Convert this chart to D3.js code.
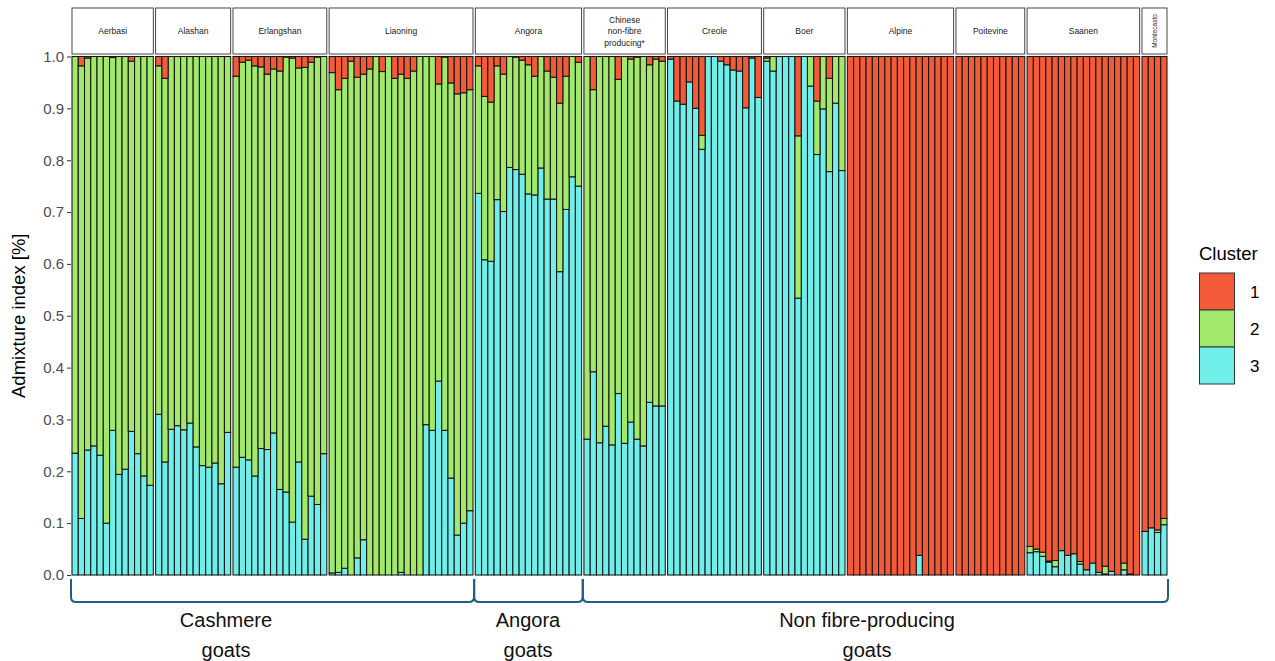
<!DOCTYPE html>
<html>
<head>
<meta charset="utf-8">
<script src="https://cdnjs.cloudflare.com/ajax/libs/d3/7.8.5/d3.min.js"></script>
<style>
  html, body { margin: 0; padding: 0; background: #ffffff; }
  svg { display: block; font-family: "Liberation Sans", Arial, Helvetica, sans-serif; }
</style>
</head>
<body>
<svg id="chart" width="1275" height="661"></svg>
<script>
// ---------------- DATA ----------------
const breeds = ["Aerbasi", "Alashan", "Erlangshan", "Liaoning", "Angora",
  "Chinese\nnon-fibre\nproducing*", "Creole", "Boer", "Alpine", "Poitevine", "Saanen", "Montecasto"];
const breedSizes = [13, 12, 15, 23, 17, 13, 15, 13, 17, 11, 18, 4];
const verticalStripBreeds = ["Montecasto"];

const clusterNames = ["1", "2", "3"];

// Cluster 1 (red) proportions, individual by individual
const cluster1 = [
  // Aerbasi
  0, 0.018, 0.003, 0, 0, 0, 0.002, 0, 0, 0.009, 0, 0, 0,
  // Alashan
  0.018, 0.042, 0, 0, 0, 0, 0, 0, 0, 0, 0, 0,
  // Erlangshan
  0.038, 0.011, 0.007, 0.018, 0.020, 0.034, 0.024, 0.028, 0.001, 0.003, 0.022, 0.021, 0.011, 0.001, 0,
  // Liaoning
  0.031, 0.064, 0.042, 0.009, 0.040, 0.034, 0.024, 0, 0.029, 0, 0.042, 0.034, 0.042, 0.028, 0, 0, 0, 0.053, 0.001, 0.051, 0.072, 0.070, 0.064,
  // Angora
  0.018, 0.077, 0.088, 0.018, 0.034, 0, 0.001, 0.007, 0.016, 0.038, 0, 0.028, 0.040, 0.090, 0.038, 0, 0.011,
  // Chinese non-fibre producing
  0, 0.064, 0, 0, 0, 0.044, 0, 0.005, 0.001, 0, 0.016, 0.005, 0.009,
  // Creole
  0.005, 0.086, 0.092, 0.049, 0.100, 0.152, 0, 0, 0.009, 0.016, 0.026, 0.028, 0.099, 0.003, 0.079,
  // Boer
  0.003, 0, 0, 0, 0, 0.153, 0, 0, 0.086, 0, 0.042, 0, 0,
  // Alpine
  1, 1, 1, 1, 1, 1, 1, 1, 1, 1, 1, 0.962, 1, 1, 1, 1, 1,
  // Poitevine
  1, 1, 1, 1, 1, 1, 1, 1, 1, 1, 1,
  // Saanen
  0.945, 0.950, 0.956, 0.973, 0.972, 0.953, 0.962, 0.959, 0.974, 0.990, 0.977, 0.995, 0.983, 0.993, 1, 0.977, 0.998, 1,
  // Montecasto
  0.916, 0.909, 0.913, 0.891
];

// Cluster 2 (green) proportions
const cluster2 = [
  // Aerbasi
  0.765, 0.873, 0.756, 0.751, 0.769, 0.900, 0.719, 0.806, 0.796, 0.714, 0.766, 0.809, 0.827,
  // Alashan
  0.672, 0.740, 0.719, 0.712, 0.720, 0.707, 0.753, 0.789, 0.792, 0.784, 0.824, 0.725,
  // Erlangshan
  0.754, 0.762, 0.771, 0.791, 0.736, 0.724, 0.702, 0.807, 0.839, 0.895, 0.760, 0.910, 0.837, 0.863, 0.766,
  // Liaoning
  0.965, 0.931, 0.945, 0.991, 0.927, 0.898, 0.976, 1, 0.971, 1, 0.958, 0.961, 0.958, 0.972, 1, 0.710, 0.721, 0.573, 0.720, 0.762, 0.851, 0.830, 0.812,
  // Angora
  0.246, 0.315, 0.307, 0.258, 0.265, 0.214, 0.217, 0.220, 0.249, 0.229, 0.215, 0.247, 0.235, 0.325, 0.257, 0.232, 0.239,
  // Chinese non-fibre producing
  0.738, 0.544, 0.745, 0.713, 0.749, 0.606, 0.746, 0.700, 0.737, 0.751, 0.651, 0.669, 0.665,
  // Creole
  0, 0, 0, 0, 0, 0.027, 0, 0, 0, 0, 0, 0, 0, 0, 0,
  // Boer
  0.006, 0.028, 0, 0, 0, 0.313, 0, 0.057, 0.103, 0.101, 0.180, 0.090, 0.220,
  // Alpine
  0, 0, 0, 0, 0, 0, 0, 0, 0, 0, 0, 0, 0, 0, 0, 0, 0,
  // Poitevine
  0, 0, 0, 0, 0, 0, 0, 0, 0, 0, 0,
  // Saanen
  0.012, 0.005, 0.008, 0.002, 0.012, 0, 0, 0, 0.005, 0, 0, 0, 0.015, 0, 0, 0.013, 0, 0,
  // Montecasto
  0, 0, 0.005, 0.012
];

// Cluster 3 (cyan) proportions
const cluster3 = [
  // Aerbasi
  0.235, 0.109, 0.241, 0.249, 0.231, 0.100, 0.279, 0.194, 0.204, 0.277, 0.234, 0.191, 0.173,
  // Alashan
  0.310, 0.218, 0.281, 0.288, 0.280, 0.293, 0.247, 0.211, 0.208, 0.216, 0.176, 0.275,
  // Erlangshan
  0.208, 0.227, 0.222, 0.191, 0.244, 0.242, 0.274, 0.165, 0.160, 0.102, 0.218, 0.069, 0.152, 0.136, 0.234,
  // Liaoning
  0.004, 0.005, 0.013, 0, 0.033, 0.068, 0, 0, 0, 0, 0, 0.005, 0, 0, 0, 0.290, 0.279, 0.374, 0.279, 0.187, 0.077, 0.100, 0.124,
  // Angora
  0.736, 0.608, 0.605, 0.724, 0.701, 0.786, 0.782, 0.773, 0.735, 0.733, 0.785, 0.725, 0.725, 0.585, 0.705, 0.768, 0.750,
  // Chinese non-fibre producing
  0.262, 0.392, 0.255, 0.287, 0.251, 0.350, 0.254, 0.295, 0.262, 0.249, 0.333, 0.326, 0.326,
  // Creole
  0.995, 0.914, 0.908, 0.951, 0.900, 0.821, 1, 1, 0.991, 0.984, 0.974, 0.972, 0.901, 0.997, 0.921,
  // Boer
  0.991, 0.972, 1, 1, 1, 0.534, 1, 0.943, 0.811, 0.899, 0.778, 0.910, 0.780,
  // Alpine
  0, 0, 0, 0, 0, 0, 0, 0, 0, 0, 0, 0.038, 0, 0, 0, 0, 0,
  // Poitevine
  0, 0, 0, 0, 0, 0, 0, 0, 0, 0, 0,
  // Saanen
  0.043, 0.045, 0.036, 0.025, 0.016, 0.047, 0.038, 0.041, 0.021, 0.010, 0.023, 0.005, 0.002, 0.007, 0, 0.010, 0.002, 0,
  // Montecasto
  0.084, 0.091, 0.082, 0.097
];

const yTicks = [0, 0.1, 0.2, 0.3, 0.4, 0.5, 0.6, 0.7, 0.8, 0.9, 1.0];
const yTitle = "Admixture index [%]";
const legendTitle = "Cluster";

const groupLabels = [["Cashmere", "goats"], ["Angora", "goats"], ["Non fibre-producing", "goats"]];
const groupFirstBreed = [0, 4, 5];
const groupLastBreed = [3, 4, 11];
const groupLabelX = [226, 528, 867];

// ---------------- LAYOUT / STYLE ----------------
const colors = { "1": "#F25A38", "2": "#A2E86B", "3": "#70EEEA" };
const svg = d3.select("#chart");
const plotLeft = 72, plotRight = 1167, plotTop = 56.5, plotBottom = 575;
const stripTop = 8, stripBottom = 54;
const gapUnits = 0.37; // panel spacing in bar-width units

// build rows
const rows = [];
let idx = 0;
breeds.forEach((b, p) => {
  for (let k = 0; k < breedSizes[p]; k++) {
    rows.push({ breed: b, panel: p, k: k, "1": cluster1[idx], "2": cluster2[idx], "3": cluster3[idx] });
    idx++;
  }
});

const totalBars = d3.sum(breedSizes);
const totalUnits = totalBars + gapUnits * (breeds.length - 1);
const xUnit = d3.scaleLinear().domain([0, totalUnits]).range([plotLeft, plotRight]);

// panel starts in units
const panelStart = [];
let acc = 0;
breedSizes.forEach((n, p) => { panelStart.push(acc); acc += n + gapUnits; });
const panelX0 = p => xUnit(panelStart[p]);
const panelX1 = p => xUnit(panelStart[p] + breedSizes[p]);

const y = d3.scaleLinear().domain([0, 1]).range([plotBottom, plotTop]);

// stack: cluster 3 bottom, then 2, then 1 on top
const stack = d3.stack().keys(["3", "2", "1"]);
const series = stack(rows);

const gBars = svg.append("g");
series.forEach(s => {
  gBars.append("g")
    .selectAll("rect")
    .data(s)
    .join("rect")
    .attr("x", d => xUnit(panelStart[d.data.panel] + d.data.k))
    .attr("width", d => xUnit(1) - xUnit(0))
    .attr("y", d => y(d[1]))
    .attr("height", d => Math.max(0, y(d[0]) - y(d[1])))
    .attr("fill", colors[s.key])
    .attr("stroke", "#141414")
    .attr("stroke-width", 1.05)
    .attr("display", d => (d[1] - d[0]) > 0 ? null : "none");
});

// strips
const gStrip = svg.append("g");
breeds.forEach((b, p) => {
  const x0 = panelX0(p), x1 = panelX1(p);
  gStrip.append("rect")
    .attr("x", x0).attr("y", stripTop)
    .attr("width", x1 - x0).attr("height", stripBottom - stripTop)
    .attr("fill", "#ffffff").attr("stroke", "#333333").attr("stroke-width", 0.9);
  const cx = (x0 + x1) / 2, cy = (stripTop + stripBottom) / 2;
  if (verticalStripBreeds.includes(b)) {
    gStrip.append("text")
      .attr("transform", `translate(${cx + 2.5},${cy}) rotate(-90)`)
      .attr("text-anchor", "middle")
      .attr("font-size", 6.5).attr("fill", "#1a1a1a")
      .text(b);
  } else {
    const lines = b.split("\n");
    const lh = 11.5;
    lines.forEach((ln, i) => {
      gStrip.append("text")
        .attr("x", cx)
        .attr("y", cy + (i - (lines.length - 1) / 2) * lh + 3)
        .attr("text-anchor", "middle")
        .attr("font-size", 8.5).attr("fill", "#1a1a1a")
        .text(ln);
    });
  }
});

// y axis
const yAxis = d3.axisLeft(y).tickValues(yTicks).tickFormat(d3.format(".1f")).tickSize(4).tickPadding(3);
const gY = svg.append("g").attr("transform", `translate(${plotLeft - 1},0)`).call(yAxis);
gY.select(".domain").remove();
gY.selectAll(".tick line").attr("stroke", "#333333");
gY.selectAll(".tick text").attr("font-size", 15).attr("fill", "#4d4d4d")
  .attr("font-family", "'Liberation Sans', Arial, sans-serif");

svg.append("text")
  .attr("transform", `translate(25,${(plotTop + plotBottom) / 2}) rotate(-90)`)
  .attr("text-anchor", "middle")
  .attr("font-size", 18.5).attr("fill", "#000")
  .text(yTitle);

// legend
const gLeg = svg.append("g").attr("transform", "translate(1199,0)");
gLeg.append("text").attr("x", 0).attr("y", 260).attr("font-size", 18.5).attr("fill", "#000").text(legendTitle);
clusterNames.forEach((c, i) => {
  gLeg.append("rect")
    .attr("x", 0.5).attr("y", 273 + i * 37)
    .attr("width", 35).attr("height", 37)
    .attr("fill", colors[c]).attr("stroke", "#333333").attr("stroke-width", 1);
  gLeg.append("text")
    .attr("x", 51).attr("y", 273 + i * 37 + 18.5 + 6)
    .attr("font-size", 17).attr("fill", "#000")
    .text(c);
});

// group brackets
const gBr = svg.append("g");
const bracketColor = "#1e5f86";
groupLabels.forEach((lab, gi) => {
  const x0 = panelX0(groupFirstBreed[gi]) - 1;
  const x1 = panelX1(groupLastBreed[gi]) + 1;
  const yTop = 579, yLine = 602, r = 5;
  const path = `M${x0},${yTop} L${x0},${yLine - r} Q${x0},${yLine} ${x0 + r},${yLine} L${x1 - r},${yLine} Q${x1},${yLine} ${x1},${yLine - r} L${x1},${yTop}`;
  gBr.append("path").attr("d", path).attr("fill", "none")
    .attr("stroke", bracketColor).attr("stroke-width", 2);
  lab.forEach((t, li) => {
    gBr.append("text")
      .attr("x", groupLabelX[gi]).attr("y", 627 + li * 30)
      .attr("text-anchor", "middle")
      .attr("font-size", 20).attr("fill", "#111")
      .text(t);
  });
});
</script>
</body>
</html>
